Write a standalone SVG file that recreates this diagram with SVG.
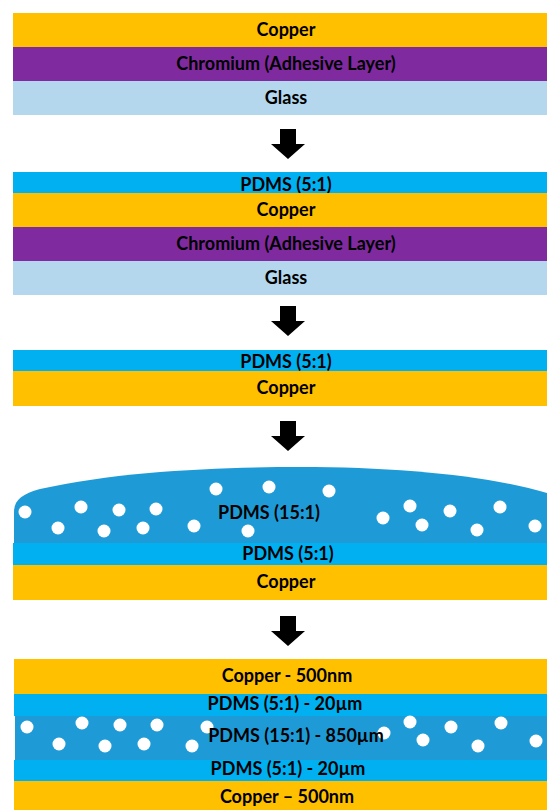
<svg xmlns="http://www.w3.org/2000/svg" width="547" height="810" viewBox="0 0 547 810">
<style>
.cu{fill:#FFC000}
.cr{fill:#7F2B9F}
.gl{fill:#B4D7EE}
.p5{fill:#00B0F0}
.p15{fill:#1E9BD7}
.b{fill:#FFFFFF}
text{font-family:Lato,"Liberation Sans",sans-serif;font-weight:bold;font-size:18px;fill:#000;text-anchor:middle}
.ar{fill:#000}
</style>
<defs>
<path id="arrow" d="M-8,0 H8 V15 H17 L0,30 L-17,15 H-8 Z"/>
</defs>
<rect width="547" height="810" fill="#FFFFFF"/>

<g id="stage1">
<g id="s1-copper"><rect class="cu" x="13" y="13" width="534" height="34"/><text x="286" y="36">Copper</text></g>
<g id="s1-chromium"><rect class="cr" x="13" y="47" width="534" height="34"/><text x="286" y="70">Chromium (Adhesive Layer)</text></g>
<g id="s1-glass"><rect class="gl" x="13" y="81" width="534" height="34"/><text x="286" y="104">Glass</text></g>
</g>

<g id="stage2">
<g id="s2-pdms"><rect class="p5" x="13" y="172" width="534" height="21"/><text x="286" y="191">PDMS (5:1)</text></g>
<g id="s2-copper"><rect class="cu" x="13" y="193" width="534" height="34"/><text x="286" y="216">Copper</text></g>
<g id="s2-chromium"><rect class="cr" x="13" y="227" width="534" height="34"/><text x="286" y="250">Chromium (Adhesive Layer)</text></g>
<g id="s2-glass"><rect class="gl" x="13" y="261" width="534" height="34"/><text x="286" y="284">Glass</text></g>
</g>

<g id="stage3">
<g id="s3-pdms"><rect class="p5" x="13" y="350" width="534" height="21"/><text x="286" y="368">PDMS (5:1)</text></g>
<g id="s3-copper"><rect class="cu" x="13" y="371" width="534" height="35"/><text x="286" y="394">Copper</text></g>
</g>

<g id="stage4">
<g id="s4-pdms15">
<path class="p15" d="M14,543 V512 C14,500 22,494 40,489 C120,471 220,467 300,467 C400,467 490,476 547,493 V543 Z"/>
<g class="b">
<circle cx="25" cy="512" r="6.5"/><circle cx="81" cy="507" r="6.5"/><circle cx="119" cy="510" r="6.5"/><circle cx="156" cy="509" r="6.5"/>
<circle cx="58" cy="528" r="6.5"/><circle cx="104" cy="531" r="6.5"/><circle cx="143" cy="528" r="6.5"/><circle cx="194" cy="526" r="6.5"/>
<circle cx="216" cy="489" r="6.5"/><circle cx="269" cy="487" r="6.5"/><circle cx="329" cy="491" r="6.5"/><circle cx="248" cy="531" r="6.5"/>
<circle cx="383" cy="518" r="6.5"/><circle cx="410" cy="506" r="6.5"/><circle cx="422" cy="525" r="6.5"/><circle cx="450" cy="511" r="6.5"/>
<circle cx="477" cy="530" r="6.5"/><circle cx="500" cy="507" r="6.5"/><circle cx="535" cy="526" r="6.5"/>
</g>
<text x="269" y="519">PDMS (15:1)</text>
</g>
<g id="s4-pdms5"><rect class="p5" x="13" y="543" width="534" height="22"/><text x="288" y="560">PDMS (5:1)</text></g>
<g id="s4-copper"><rect class="cu" x="13" y="565" width="534" height="35"/><text x="286" y="588">Copper</text></g>
</g>

<g id="stage5">
<g id="s5-copper-top"><rect class="cu" x="14" y="659" width="533" height="35"/><text x="287" y="682">Copper - 500nm</text></g>
<g id="s5-pdms5-top"><rect class="p5" x="14" y="694" width="533" height="22"/><text x="285" y="710">PDMS (5:1) - 20µm</text></g>
<g id="s5-pdms15">
<rect class="p15" x="15" y="716" width="532" height="44"/>
<g class="b">
<circle cx="27" cy="727" r="6.5"/><circle cx="82" cy="723" r="6.5"/><circle cx="120" cy="725" r="6.5"/><circle cx="157" cy="725" r="6.5"/><circle cx="207" cy="727" r="6.5"/>
<circle cx="59" cy="744" r="6.5"/><circle cx="105" cy="746" r="6.5"/><circle cx="144" cy="744" r="6.5"/><circle cx="192" cy="746" r="6.5"/>
<circle cx="384" cy="733" r="6.5"/><circle cx="410" cy="722" r="6.5"/><circle cx="423" cy="740" r="6.5"/><circle cx="451" cy="727" r="6.5"/>
<circle cx="478" cy="746" r="6.5"/><circle cx="501" cy="723" r="6.5"/><circle cx="536" cy="741" r="6.5"/>
</g>
<text x="296" y="742">PDMS (15:1) - 850µm</text>
</g>
<g id="s5-pdms5-bottom"><rect class="p5" x="14" y="760" width="533" height="21"/><text x="288" y="775">PDMS (5:1) - 20µm</text></g>
<g id="s5-copper-bottom"><rect class="cu" x="14" y="781" width="533" height="29"/><text x="287" y="803">Copper – 500nm</text></g>
</g>

<g id="connectors" class="ar">
<use href="#arrow" x="288" y="129"/>
<use href="#arrow" x="288" y="306"/>
<use href="#arrow" x="288" y="421"/>
<use href="#arrow" x="288" y="616"/>
</g>
</svg>
